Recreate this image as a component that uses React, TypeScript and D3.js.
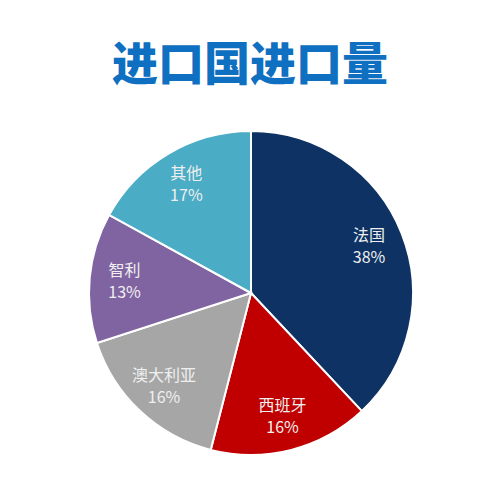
import React from "react";
import * as d3 from "d3";

const title = "进口国进口量";
const countries = ["法国", "西班牙", "澳大利亚", "智利", "其他"];
const shares = [38, 16, 16, 13, 17];
const colors = ["#0D3263", "#C00000", "#A6A6A6", "#8064A2", "#4BACC6"];

export default function App() {
  const width = 500;
  const height = 500;
  const cx = 251;
  const cy = 293;
  const r = 162;

  const pie = d3.pie<number>().sort(null).value((d) => d);
  const arcs = pie(shares);
  const arc = d3.arc<d3.PieArcDatum<number>>().innerRadius(0).outerRadius(r);
  const labelArc = d3.arc<d3.PieArcDatum<number>>().innerRadius(127).outerRadius(127);

  return (
    <svg
      width={width}
      height={height}
      style={{ position: "absolute", left: 0, top: 0, background: "#fff" }}
    >
      <text
        x={250}
        y={80}
        textAnchor="middle"
        fontFamily="'Noto Sans CJK SC', sans-serif"
        fontWeight={900}
        fontSize={46}
        fill="#0F6FC0"
      >
        {title}
      </text>
      <g transform={`translate(${cx},${cy})`}>
        {arcs.map((a, i) => (
          <path key={i} d={arc(a) || ""} fill={colors[i]} stroke="#fff" strokeWidth={2} />
        ))}
        {arcs.map((a, i) => {
          const [lx, ly] = labelArc.centroid(a);
          return (
            <g key={"l" + i} fontFamily="'Noto Sans CJK SC', 'Open Sans', sans-serif" fontSize={16} fill="#EFEFEF" textAnchor="middle">
              <text x={lx} y={ly - 5}>{countries[i]}</text>
              <text x={lx} y={ly + 17}>{shares[i]}%</text>
            </g>
          );
        })}
      </g>
    </svg>
  );
}
